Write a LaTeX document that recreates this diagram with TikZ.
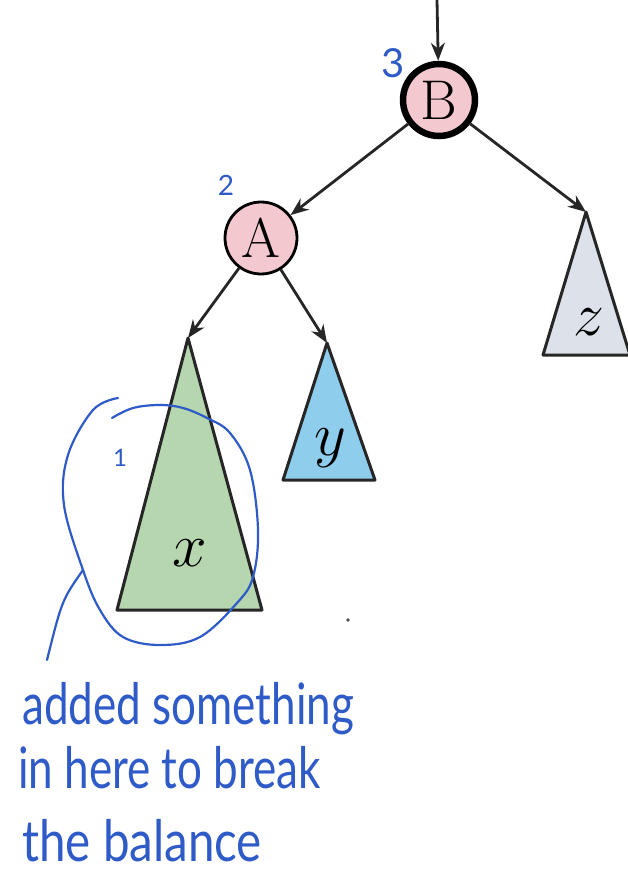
\documentclass[tikz,border=0pt]{standalone}
\usepackage{fix-cm}
\usepackage{fontspec}
\usepackage{xcolor}
\usetikzlibrary{arrows.meta, positioning}
\definecolor{nodepink}{HTML}{F3C8CF}
\definecolor{xgreen}{HTML}{B5D6AE}
\definecolor{yblue}{HTML}{8ECDEB}
\definecolor{zgray}{HTML}{DDE1EA}
\definecolor{ink}{HTML}{2F5BC8}
\newfontfamily\handfont{Lato}

\begin{document}
\begin{tikzpicture}[
    x=1pt, y=-1pt,
    edge/.style={-{Stealth[length=18pt, width=14pt]}, line width=2.8pt, draw=black!85},
    treenode/.style={draw, circle, fill=nodepink, minimum size=72pt, inner sep=0pt, font=\fontsize{56}{60}\selectfont},
    subtree/.style={draw=black!85, line width=3pt, line join=round},
    leaf/.style={font=\fontsize{62}{62}\selectfont, inner sep=0pt},
    hand/.style={draw=ink, line width=2.2pt, line cap=round},
    note/.style={text=ink, font=\handfont\fontsize{#1}{#1}\selectfont, inner sep=0pt},
]
    \useasboundingbox (0,0) rectangle (627,880);

    % Tree nodes
    \coordinate (top) at (437,0);
    \node[treenode, line width=6.5pt] (B) at (439,100) {B};
    \node[treenode, line width=2.8pt] (A) at (261,238) {A};

    % Subtree apexes
    \coordinate (xtip) at (188,338);
    \coordinate (ytip) at (327,343);
    \coordinate (ztip) at (586,212);

    % Subtrees
    \draw[subtree, fill=xgreen] (xtip) -- (262,610) -- (117,610) -- cycle;
    \draw[subtree, fill=yblue] (ytip) -- (375,480) -- (283,480) -- cycle;
    \draw[subtree, fill=zgray] (ztip) -- (630,355) -- (543,355) -- cycle;
    \node[leaf] (xlabel) at (190,553) {$x$};
    \node[leaf] (ylabel) at (330,448) {$y$};
    \node[leaf] (zlabel) at (589,322) {$z$};

    % Edges
    \draw[edge] (top) -- (B);
    \draw[edge] (B) -- (A);
    \draw[edge] (B) -- (ztip);
    \draw[edge] (A) -- (xtip);
    \draw[edge] (A) -- (ytip);

    % Heights
    \node[note=40] (hB) at (393,63) {3};
    \node[note=28] (hA) at (226,185) {2};
    \node[note=24] (hx) at (120,458) {1};

    % Loop round x
    \draw[hand] plot[smooth, tension=0.6] coordinates {
        (118,398) (93,410) (68,455) (64,505) (83,570) (100,610) (123,637)
        (160,645) (200,637) (237,603) (253,577) (258,530) (250,470)
        (230,433) (207,418) (183,408) (160,405) (133,408) (112,418)};
    \coordinate (loop) at (83,570);
    \coordinate (tail) at (47,660);
    \draw[hand] (loop) .. controls (62,600) .. (tail);
    \fill[black!70] (348,620) circle (1.8);

    % Note
    \node[note=44, yscale=1.3, anchor=base west] (line1) at (22,724) {added something};
    \node[note=44, yscale=1.3, anchor=base west] (line2) at (18,788) {in here to break};
    \node[note=44, yscale=1.3, xscale=1.08, anchor=base west] (line3) at (22,861) {the balance};
\end{tikzpicture}
\end{document}
